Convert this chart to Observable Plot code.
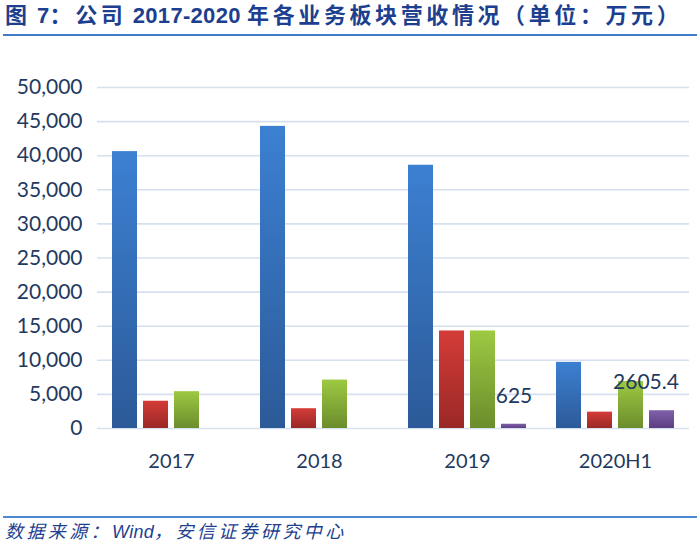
<!DOCTYPE html>
<html><head><meta charset="utf-8">
<script src="https://cdn.jsdelivr.net/npm/d3@7"></script>
<script src="https://cdn.jsdelivr.net/npm/@observablehq/plot@0.6"></script>
<style>
body{margin:0;background:#fff;width:700px;height:546px;position:relative;overflow:hidden;font-family:Lato,"Noto Sans CJK SC",sans-serif}
#title{position:absolute;left:5px;top:3px;font-weight:bold;font-size:22px;font-family:"Liberation Sans","Noto Sans CJK SC",sans-serif;color:#1d3f8f;letter-spacing:3.6px;white-space:nowrap;line-height:26px}
#title .lat,#source .lat{letter-spacing:0.3px}
#tline{position:absolute;left:3px;width:694px;top:34px;height:2px;background:#3d7cc6}
#chart{position:absolute;left:0;top:40px}
#fline{position:absolute;left:3px;width:694px;top:516px;height:2px;background:#4a8ad0}
#source{position:absolute;left:5px;top:520px;font-style:italic;font-size:18px;font-family:"Liberation Sans","Noto Sans CJK SC",sans-serif;color:#1d3f8f;letter-spacing:3.4px;white-space:nowrap;line-height:24px}
</style>
</head><body>
<div id="title">图<span class="lat"> 7</span>：公司<span class="lat"> 2017-2020 </span>年各业务板块营收情况（单位：万元）</div>
<div id="tline"></div>
<div id="chart"></div>
<div id="fline"></div>
<div id="source">数据来源：<span class="lat">Wind</span>，安信证券研究中心</div>
<script>
const years = ["2017", "2018", "2019", "2020H1"];
const series = ["业务一", "业务二", "业务三", "业务四"];
const seriesA = [40600, 44300, 38600, 9700];
const seriesB = [4000, 2900, 14300, 2400];
const seriesC = [5400, 7100, 14300, 6900];
const seriesD = [null, null, 625, 2605.4];
const labelsD = [null, null, "625", "2605.4"];
const yTicks = [0, 5000, 10000, 15000, 20000, 25000, 30000, 35000, 40000, 45000, 50000];

const gradients = [
  ["gA", "#3c80d2", "#2c5a98"],
  ["gB", "#d43c38", "#9a2826"],
  ["gC", "#9dc942", "#6b8d2c"],
  ["gD", "#8060ab", "#5c3f82"]
];

const allValues = [seriesA, seriesB, seriesC, seriesD];
const rows = [];
years.forEach((yr, i) => {
  series.forEach((s, j) => {
    rows.push({year: yr, series: s, value: allValues[j][i], label: j === 3 ? labelsD[i] : null});
  });
});
const labelRows = rows.filter(d => d.label != null);

const svg = Plot.plot({
  width: 700,
  height: 440,
  marginTop: 47,
  marginBottom: 52,
  marginLeft: 95,
  marginRight: 10,
  style: {fontFamily: "Lato, sans-serif", color: "#1f3a60", background: "white"},
  fx: {domain: years, padding: 0, label: null},
  x: {domain: series, paddingInner: 0.19, paddingOuter: 0.42, axis: null},
  y: {domain: [0, 50000], axis: null},
  color: {domain: series, range: gradients.map(g => `url(#${g[0]})`)},
  marks: [
    Plot.ruleY(yTicks, {stroke: "#d6e0ef", strokeWidth: 1.6}),
    Plot.axisY(yTicks, {tickSize: 0, tickPadding: 15, tickFormat: d3.format(","), fontSize: 21, color: "#1f3a60", label: null}),
    Plot.axisFx({anchor: "bottom", tickSize: 0, tickPadding: 25, fontSize: 20, color: "#1f3a60", label: null}),
    Plot.barY(rows, {fx: "year", x: "series", y: "value", fill: "series"}),
    Plot.text(labelRows.filter(d => d.year === "2019"), {fx: "year", x: "series", y: "value", text: "label", dy: -28, fontSize: 21, fill: "#1f3a60"}),
    Plot.text(labelRows.filter(d => d.year === "2020H1"), {fx: "year", x: "series", y: "value", text: "label", dy: -28, dx: -16, fontSize: 21, fill: "#1f3a60"})
  ]
});

const defs = d3.select(svg).insert("defs", ":first-child");
gradients.forEach(([id, top, bottom]) => {
  const lg = defs.append("linearGradient").attr("id", id).attr("x1", 0).attr("y1", 0).attr("x2", 0).attr("y2", 1);
  lg.append("stop").attr("offset", "0%").attr("stop-color", top);
  lg.append("stop").attr("offset", "100%").attr("stop-color", bottom);
});

document.getElementById("chart").appendChild(svg);
</script>
</body></html>
